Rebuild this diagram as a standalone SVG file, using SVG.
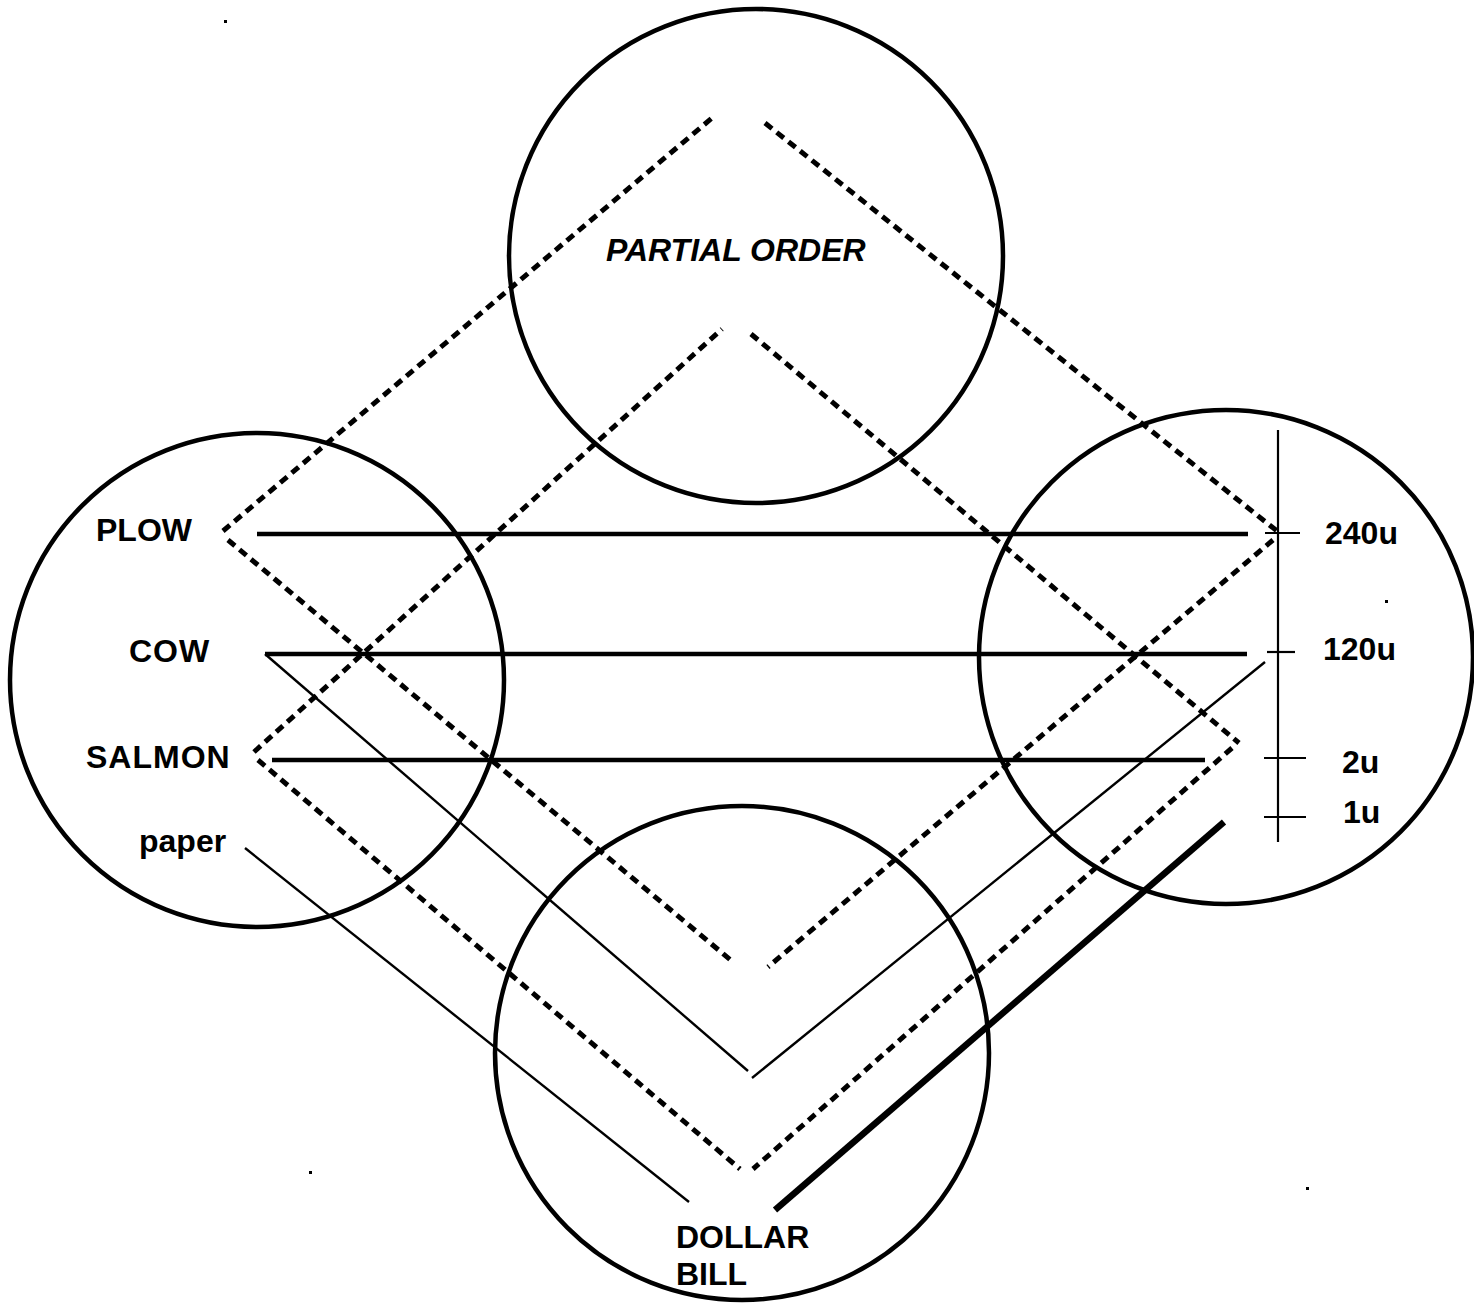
<svg xmlns="http://www.w3.org/2000/svg" width="1474" height="1306" viewBox="0 0 1474 1306">
<style>
.circle{fill:none;stroke:#000;stroke-width:4.5}
.dash{fill:none;stroke:#000;stroke-width:5;stroke-dasharray:9 6}
.bar{stroke:#000;stroke-width:4.5;fill:none}
.thin{stroke:#000;stroke-width:2.4;fill:none}
.thick{stroke:#000;stroke-width:6.5;fill:none}
.axis{stroke:#000;stroke-width:2.2;fill:none}
.lbl{font-family:"Liberation Sans",Arial,sans-serif;font-weight:bold;font-size:32px;fill:#000}
.it{font-style:italic}
</style>
<rect width="1474" height="1306" fill="#fff"/>
<g id="node-partial-order">
<circle class="circle" cx="756" cy="256" r="247"/>
<text class="lbl it" x="606" y="261">PARTIAL ORDER</text>
</g>
<g id="node-goods">
<circle class="circle" cx="257" cy="680" r="247"/>
<text class="lbl" x="96" y="541">PLOW</text>
<text class="lbl" x="129" y="662" letter-spacing="1">COW</text>
<text class="lbl" x="86" y="768" letter-spacing="1">SALMON</text>
<text class="lbl" x="139" y="852">paper</text>
</g>
<g id="node-scale">
<circle class="circle" cx="1226" cy="657" r="247"/>
<line class="axis" x1="1278" y1="430" x2="1278" y2="842"/>
<line class="axis" x1="1265" y1="533" x2="1300" y2="533"/>
<line class="axis" x1="1267" y1="652" x2="1295" y2="652"/>
<line class="axis" x1="1264" y1="758" x2="1306" y2="758"/>
<line class="axis" x1="1264" y1="817" x2="1306" y2="817"/>
<text class="lbl" x="1325" y="544">240u</text>
<text class="lbl" x="1323" y="660">120u</text>
<text class="lbl" x="1342" y="773">2u</text>
<text class="lbl" x="1343" y="823">1u</text>
</g>
<g id="node-dollar-bill">
<circle class="circle" cx="742" cy="1053" r="247"/>
<text class="lbl" x="676" y="1248">DOLLAR</text>
<text class="lbl" x="676" y="1285">BILL</text>
</g>
<g id="connectors">
<line class="dash" x1="223" y1="531" x2="712" y2="118"/>
<line class="dash" x1="765" y1="123" x2="1277" y2="531"/>
<line class="dash" x1="1273" y1="540" x2="768" y2="967"/>
<line class="dash" x1="228" y1="540" x2="733" y2="962"/>
<line class="dash" x1="254" y1="752" x2="722" y2="329"/>
<line class="dash" x1="751" y1="334" x2="1239" y2="743"/>
<line class="dash" x1="1232" y1="748" x2="753" y2="1169"/>
<line class="dash" x1="258" y1="760" x2="740" y2="1169"/>
<line class="bar" x1="257" y1="534" x2="1248" y2="534"/>
<line class="bar" x1="265" y1="654" x2="1247" y2="654"/>
<line class="bar" x1="272" y1="760" x2="1205" y2="760"/>
<line class="thin" x1="265" y1="654" x2="748" y2="1071"/>
<line class="thin" x1="752" y1="1078" x2="1265" y2="662"/>
<line class="thin" x1="245" y1="848" x2="689" y2="1202"/>
<line class="thick" x1="775" y1="1210" x2="1224" y2="822"/>
</g>
<g id="dots">
<rect x="224" y="20" width="3" height="3"/>
<rect x="1385" y="600" width="3" height="3"/>
<rect x="309" y="1171" width="3" height="3"/>
<rect x="1306" y="1187" width="3" height="3"/>
</g>
</svg>
